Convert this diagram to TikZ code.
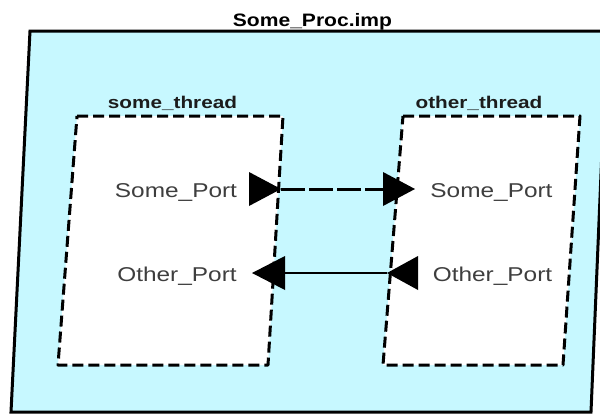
\documentclass[tikz,border=0pt]{standalone}
\usepackage{fontspec}
\setmainfont{Liberation Sans}
\usepackage{graphicx}
\definecolor{procfill}{RGB}{199,248,255}
\definecolor{labelgray}{RGB}{62,62,62}
\definecolor{headink}{RGB}{28,28,28}

\begin{document}
\begin{tikzpicture}[x=1pt,y=-1pt,
  proc/.style={draw=black,line width=3pt,fill=procfill,line join=miter},
  thread/.style={draw=black,line width=3pt,fill=white,dash pattern=on 11pt off 5pt,line join=round},
  portmark/.style={fill=black},
  dataconn/.style={draw=black,line width=3pt,dash pattern=on 24pt off 4pt},
  plainconn/.style={draw=black,line width=1.5pt},
  titletext/.style={inner sep=0pt,anchor=base,text=black,font=\bfseries\fontsize{18}{18}\selectfont},
  headtext/.style={inner sep=0pt,anchor=base,text=headink,font=\bfseries\fontsize{17}{17}\selectfont},
  porttext/.style={inner sep=0pt,anchor=base,text=labelgray,font=\fontsize{20}{20}\selectfont}]

\useasboundingbox (0,0) rectangle (600,416);
\clip (0,0) rectangle (600,416);

% process implementation
\path[proc] (30,31) -- (607,31) -- (591,412) -- (11,412) -- cycle;
\node[titletext] (title) at (312.5,26.5) {\scalebox{1.17}[1]{Some\_Proc.imp}};

% threads
\path[thread] (77,116) -- (283,116) -- (268,365) -- (58,365) -- cycle;
\path[thread] (403,116) -- (580,116) -- (563,365) -- (383,365) -- cycle;
\node[headtext] (lthr) at (172.5,108.5) {\scalebox{1.22}[1]{some\_thread}};
\node[headtext] (rthr) at (479,108.5) {\scalebox{1.22}[1]{other\_thread}};

% port labels
\node[porttext] (lsomelbl) at (176,197) {\scalebox{1.22}[1]{Some\_Port}};
\node[porttext] (lotherlbl) at (177,281) {\scalebox{1.22}[1]{Other\_Port}};
\node[porttext] (rsomelbl) at (491.5,197) {\scalebox{1.22}[1]{Some\_Port}};
\node[porttext] (rotherlbl) at (492.5,281) {\scalebox{1.22}[1]{Other\_Port}};

% port anchor points
\coordinate (lsometip) at (281,189);
\coordinate (rsomebase) at (383,189);
\coordinate (rsometip) at (415,189);
\coordinate (lotherbase) at (285,273);
\coordinate (lothertip) at (252,273);
\coordinate (rothertip) at (387,273);

% connections
\draw[dataconn] (lsometip) -- (rsomebase);
\draw[plainconn] (rothertip) -- (lotherbase);

% port triangles
\fill[portmark] (lsometip) -- ++(-32,-17) -- ++(0,34) -- cycle;
\fill[portmark] (rsometip) -- ++(-32,-17) -- ++(0,34) -- cycle;
\fill[portmark] (lothertip) -- ++(33,-17) -- ++(0,34) -- cycle;
\fill[portmark] (rothertip) -- ++(31,-17) -- ++(0,34) -- cycle;
\end{tikzpicture}
\end{document}
